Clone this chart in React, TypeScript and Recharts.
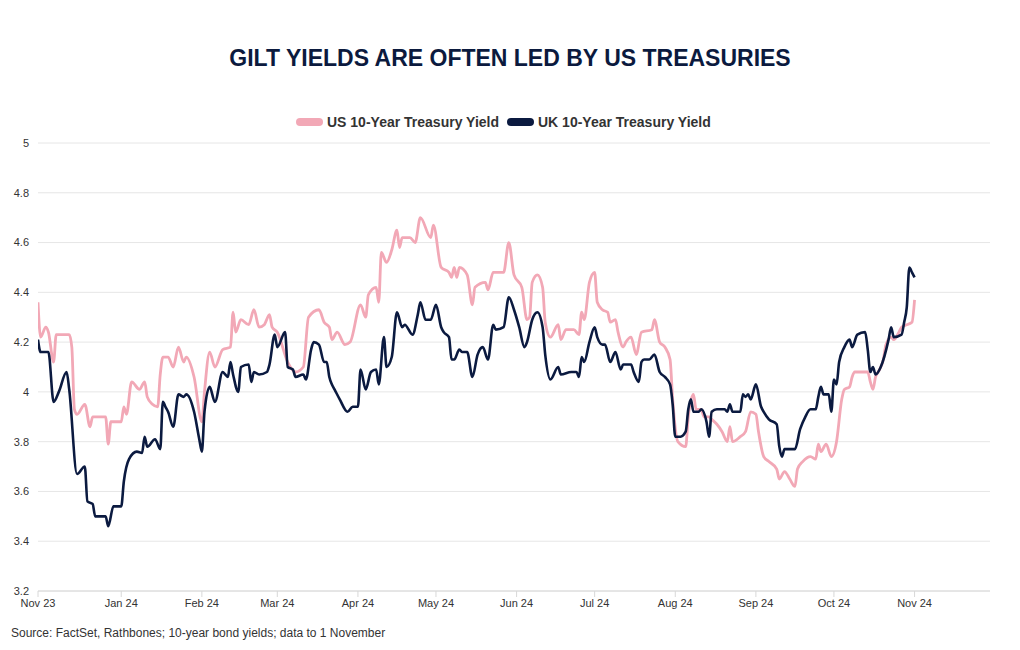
import React from 'react';
import { LineChart, Line, XAxis, YAxis, CartesianGrid } from 'recharts';

// x values are days counted from 30 Nov 2023 (start of the axis)
const usDays = [
  0, 1, 3, 4, 6, 7, 12, 13, 14, 15, 18, 20, 21, 26, 27, 28, 32, 33, 34, 36, 39, 41, 42, 44, 46, 47, 48, 50, 52,
  54, 56, 57, 60, 63, 64, 66, 68, 71, 74, 75, 76, 78, 81, 83, 85, 87, 89, 90, 92, 96, 99, 102, 104, 108, 110,
  112, 113, 115, 118, 120, 124, 126, 127, 130, 131, 132, 134, 136, 138, 139, 140, 143, 145, 147, 151, 152, 155,
  158, 159, 160, 161, 162, 165, 167, 168, 172, 173, 175, 179, 181, 183, 186, 188, 189, 190, 192, 194, 195, 197,
  200, 201, 203, 206, 208, 209, 210, 212, 214, 215, 217, 219, 220, 222, 223, 225, 226, 228, 230, 232, 236, 237,
  239, 241, 243, 244, 246, 249, 250, 252, 253, 255, 256, 258, 259, 261, 263, 265, 266, 267, 270, 272, 274, 276,
  277, 279, 281, 284, 285, 287, 289, 291, 292, 294, 297, 299, 300, 301, 303, 305, 307, 309, 310, 312, 313, 314,
  319, 320, 321, 322, 323, 325, 326, 328, 329, 331, 332, 334, 336, 337,
];
const usYield = [
  4.36, 4.22, 4.26, 4.24, 4.12, 4.23, 4.23, 4.18, 3.93, 3.91, 3.95, 3.86, 3.9, 3.9, 3.79, 3.88, 3.88, 3.94, 3.91,
  4.04, 4.01, 4.04, 3.98, 3.95, 3.94, 4.07, 4.14, 4.14, 4.1, 4.18, 4.12, 4.14, 4.06, 3.88, 4.0, 4.16, 4.1, 4.17,
  4.18, 4.32, 4.24, 4.29, 4.27, 4.33, 4.26, 4.27, 4.31, 4.26, 4.24, 4.12, 4.08, 4.1, 4.3, 4.33, 4.28, 4.26, 4.21,
  4.24, 4.19, 4.2, 4.35, 4.3, 4.39, 4.42, 4.36, 4.56, 4.52, 4.57, 4.65, 4.58, 4.62, 4.62, 4.6, 4.7, 4.62, 4.67,
  4.5, 4.48, 4.46, 4.5, 4.46, 4.5, 4.47, 4.35, 4.42, 4.44, 4.41, 4.48, 4.48, 4.6, 4.47, 4.42, 4.29, 4.3, 4.44,
  4.47, 4.42, 4.28, 4.22, 4.27, 4.21, 4.25, 4.25, 4.23, 4.32, 4.29, 4.44, 4.48, 4.36, 4.33, 4.32, 4.28, 4.29,
  4.24, 4.18, 4.2, 4.22, 4.15, 4.24, 4.25, 4.29, 4.2, 4.18, 4.13, 3.97, 3.8, 3.78, 3.9, 3.99, 3.93, 3.93, 3.9,
  3.9, 3.89, 3.87, 3.84, 3.8, 3.86, 3.8, 3.82, 3.84, 3.92, 3.91, 3.84, 3.74, 3.72, 3.69, 3.65, 3.68, 3.65, 3.62,
  3.69, 3.72, 3.74, 3.73, 3.79, 3.76, 3.79, 3.74, 3.8, 3.97, 4.01, 4.02, 4.06, 4.08, 4.08, 4.04, 4.01, 4.06,
  4.08, 4.13, 4.19, 4.22, 4.21, 4.24, 4.26, 4.27, 4.28, 4.37,
];

const ukDays = [
  0, 1, 4, 6, 8, 11, 12, 15, 18, 19, 21, 22, 26, 27, 29, 32, 33, 35, 38, 40, 41, 42, 45, 47, 48, 49, 50, 52, 54,
  56, 57, 60, 62, 63, 64, 66, 68, 71, 72, 73, 74, 75, 77, 78, 81, 82, 83, 85, 88, 89, 91, 92, 95, 96, 98, 99,
  102, 103, 105, 106, 108, 110, 111, 112, 113, 114, 116, 119, 121, 123, 124, 126, 128, 130, 131, 133, 134, 136,
  138, 140, 141, 144, 146, 147, 149, 151, 153, 155, 156, 158, 159, 160, 162, 163, 165, 167, 169, 171, 173, 175,
  176, 179, 181, 183, 185, 187, 188, 190, 192, 194, 195, 197, 200, 201, 205, 207, 208, 209, 210, 212, 214, 215,
  217, 218, 220, 222, 224, 225, 228, 229, 231, 232, 233, 235, 237, 239, 241, 243, 244, 245, 247, 249, 250, 251,
  252, 254, 255, 257, 258, 259, 261, 264, 265, 266, 267, 270, 271, 272, 273, 274, 276, 278, 279, 281, 284, 285,
  286, 287, 291, 293, 295, 297, 299, 300, 301, 302, 304, 305, 306, 307, 308, 310, 312, 313, 315, 318, 319, 320,
  321, 322, 324, 327, 328, 329, 332, 333, 334, 335, 336, 337,
];
const ukYield = [
  4.21, 4.16, 4.16, 3.96, 4.0, 4.08, 4.01, 3.67, 3.7, 3.56, 3.55, 3.5, 3.5, 3.46, 3.54, 3.54, 3.64, 3.73, 3.76,
  3.755, 3.82, 3.78, 3.81, 3.77, 3.96, 3.94, 3.92, 3.86, 3.99, 3.98, 3.99, 3.92, 3.81, 3.76, 3.92, 4.02, 3.96,
  4.08, 4.07, 4.06, 4.12, 4.07, 4.0, 4.1, 4.11, 4.04, 4.08, 4.07, 4.08, 4.11, 4.23, 4.18, 4.24, 4.1, 4.09, 4.06,
  4.07, 4.05, 4.17, 4.2, 4.19, 4.12, 4.12, 4.06, 4.03, 4.01, 3.97, 3.92, 3.94, 3.94, 4.09, 4.01, 4.08, 4.09,
  4.03, 4.22, 4.1, 4.14, 4.32, 4.26, 4.27, 4.23, 4.31, 4.36, 4.29, 4.29, 4.35, 4.26, 4.24, 4.22, 4.13, 4.13,
  4.17, 4.16, 4.16, 4.06, 4.15, 4.18, 4.13, 4.27, 4.25, 4.26, 4.38, 4.33, 4.26, 4.18, 4.2, 4.29, 4.32, 4.26,
  4.15, 4.05, 4.1, 4.07, 4.08, 4.08, 4.06, 4.14, 4.12, 4.2, 4.26, 4.22, 4.19, 4.19, 4.12, 4.16, 4.09, 4.11,
  4.11, 4.08, 4.04, 4.12, 4.13, 4.13, 4.15, 4.08, 4.06, 4.03, 3.95, 3.82, 3.82, 3.84, 3.93, 3.97, 3.92, 3.92,
  3.93, 3.88, 3.82, 3.92, 3.93, 3.93, 3.92, 3.95, 3.92, 3.92, 3.99, 3.98, 3.99, 3.97, 4.03, 3.94, 3.92, 3.89,
  3.87, 3.78, 3.74, 3.77, 3.77, 3.85, 3.9, 3.93, 3.93, 3.98, 4.02, 3.99, 3.99, 3.92, 4.05, 4.03, 4.12, 4.18,
  4.21, 4.18, 4.23, 4.24, 4.17, 4.08, 4.1, 4.07, 4.1, 4.21, 4.26, 4.22, 4.23, 4.28, 4.34, 4.5, 4.48, 4.46,
];

const monthTicks = [0, 32, 63, 92, 123, 153, 184, 214, 245, 276, 306, 337];
const monthLabels = ['Nov 23', 'Jan 24', 'Feb 24', 'Mar 24', 'Apr 24', 'May 24', 'Jun 24', 'Jul 24', 'Aug 24', 'Sep 24', 'Oct 24', 'Nov 24'];
const yTicks = [3.2, 3.4, 3.6, 3.8, 4, 4.2, 4.4, 4.6, 4.8, 5];

const US_COLOR = '#f2a8b6';
const UK_COLOR = '#0b1a40';

const usData = usDays.map((day, i) => ({ day, value: usYield[i] }));
const ukData = ukDays.map((day, i) => ({ day, value: ukYield[i] }));

const fmtMonth = (v: number) => {
  const i = monthTicks.indexOf(v);
  return i >= 0 ? monthLabels[i] : '';
};

const LegendItem = ({ color, label }: { color: string; label: string }) => (
  <div style={{ display: 'flex', alignItems: 'center', marginRight: 8 }}>
    <span style={{ display: 'inline-block', width: 27, height: 8, borderRadius: 4, background: color, marginRight: 4 }} />
    <span>{label}</span>
  </div>
);

export default function App() {
  return (
    <div
      style={{
        position: 'absolute',
        left: 0,
        top: 0,
        width: 1020,
        height: 650,
        background: '#fff',
        fontFamily: '"Liberation Sans", Arial, sans-serif',
      }}
    >
      <div
        style={{
          position: 'absolute',
          top: 44,
          width: 1020,
          textAlign: 'center',
          fontSize: 23,
          lineHeight: '28px',
          fontWeight: 700,
          color: '#0b1a3e',
        }}
      >
        GILT YIELDS ARE OFTEN LED BY US TREASURIES
      </div>

      <div
        style={{
          position: 'absolute',
          top: 114,
          left: 296,
          display: 'flex',
          fontSize: 14,
          lineHeight: '16px',
          fontWeight: 700,
          color: '#333',
        }}
      >
        <LegendItem color={US_COLOR} label="US 10-Year Treasury Yield" />
        <LegendItem color={UK_COLOR} label="UK 10-Year Treasury Yield" />
      </div>

      <LineChart width={1020} height={650} margin={{ top: 143, right: 30, bottom: 29, left: 0 }}>
        <CartesianGrid vertical={false} stroke="#e6e6e6" />
        <XAxis
          type="number"
          dataKey="day"
          domain={[0, 366]}
          ticks={monthTicks}
          tickFormatter={fmtMonth}
          height={30}
          stroke="#d8d8d8"
          tickSize={6}
          tick={{ fill: '#333', fontSize: 11 }}
          allowDataOverflow
        />
        <YAxis
          type="number"
          domain={[3.2, 5]}
          ticks={yTicks}
          width={38}
          axisLine={false}
          tickLine={false}
          tickMargin={3}
          tick={{ fill: '#333', fontSize: 11 }}
        />
        <Line
          data={usData}
          dataKey="value"
          type="monotone"
          stroke={US_COLOR}
          strokeWidth={2.8}
          dot={false}
          isAnimationActive={false}
        />
        <Line
          data={ukData}
          dataKey="value"
          type="monotone"
          stroke={UK_COLOR}
          strokeWidth={2.6}
          dot={false}
          isAnimationActive={false}
        />
      </LineChart>

      <div style={{ position: 'absolute', left: 11, top: 626, fontSize: 12, lineHeight: '14px', color: '#333' }}>
        Source: FactSet, Rathbones; 10-year bond yields; data to 1 November
      </div>
    </div>
  );
}
